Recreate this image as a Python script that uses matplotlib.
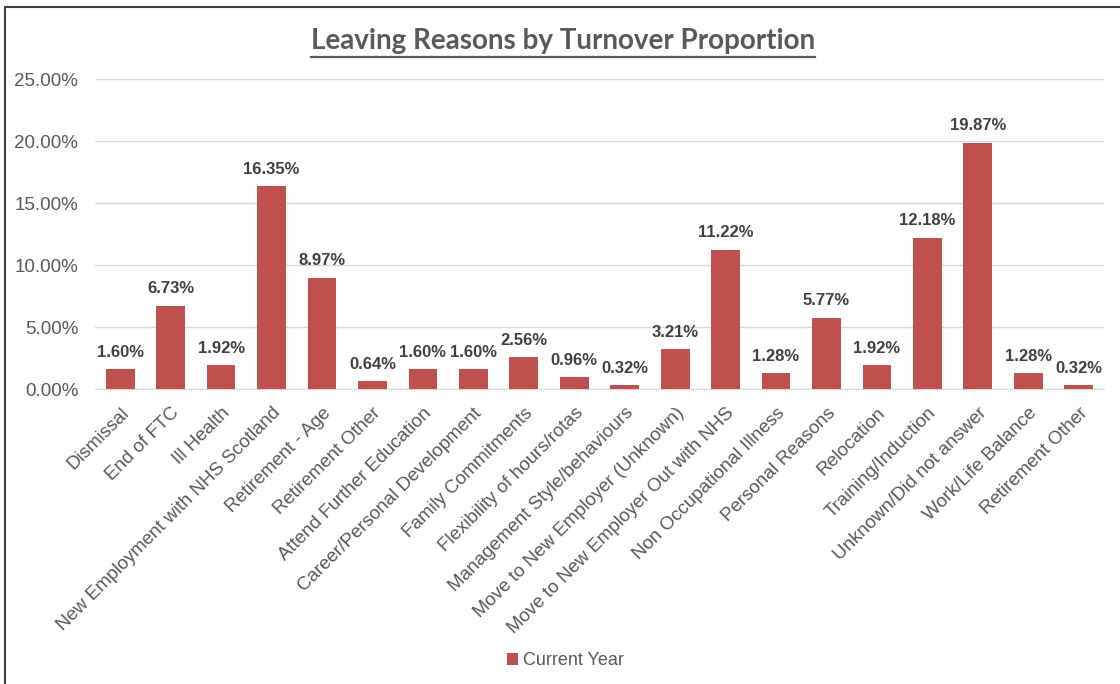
import matplotlib.pyplot as plt
from matplotlib.lines import Line2D
from matplotlib.patches import Rectangle
from matplotlib.ticker import FuncFormatter

reasons = [
    'Dismissal', 'End of FTC', 'Ill Health', 'New Employment with NHS Scotland',
    'Retirement - Age', 'Retirement Other', 'Attend Further Education',
    'Career/Personal Development', 'Family Commitments', 'Flexibility of hours/rotas',
    'Management Style/behaviours', 'Move to New Employer (Unknown)',
    'Move to New Employer Out with NHS', 'Non Occupational Illness', 'Personal Reasons',
    'Relocation', 'Training/Induction', 'Unknown/Did not answer', 'Work/Life Balance',
    'Retirement Other',
]
proportions = [1.60, 6.73, 1.92, 16.35, 8.97, 0.64, 1.60, 1.60, 2.56, 0.96,
               0.32, 3.21, 11.22, 1.28, 5.77, 1.92, 12.18, 19.87, 1.28, 0.32]

BAR_RED = '#C0504D'
TEXT_GREY = '#595959'
GRID_GREY = '#D9D9D9'

plt.rcParams['font.family'] = ['Liberation Sans', 'DejaVu Sans']

fig = plt.figure(figsize=(11.2, 6.84), dpi=100)
ax = fig.add_axes([0.0848, 0.431, 0.9009, 0.4535])

x = list(range(len(reasons)))
bars = ax.bar(x, proportions, width=0.57, color=BAR_RED, label='Current Year', zorder=3)

for rect, val in zip(bars, proportions):
    ax.annotate(f'{val:.2f}%', (rect.get_x() + rect.get_width() / 2, rect.get_height()),
                xytext=(0, 7), textcoords='offset points', ha='center', va='bottom',
                fontsize=12, fontweight='bold', color='#404040')

ax.set_xlim(-0.5, len(reasons) - 0.5)
ax.set_ylim(0, 25)
ax.set_yticks([0, 5, 10, 15, 20, 25])
ax.yaxis.set_major_formatter(FuncFormatter(lambda v, _: f'{v:.2f}%'))
ax.grid(axis='y', color=GRID_GREY, linewidth=1, zorder=0)
ax.set_xticks(x)
ax.set_xticklabels(reasons, rotation=45, ha='right', rotation_mode='anchor')
ax.tick_params(axis='both', length=0, labelsize=13.5, labelcolor=TEXT_GREY)
ax.tick_params(axis='x', pad=11)
ax.tick_params(axis='y', pad=12)
for side in ['top', 'right', 'left']:
    ax.spines[side].set_visible(False)
ax.spines['bottom'].set_color(GRID_GREY)

# title with underline
title = fig.text(0.503, 0.928, 'Leaving Reasons by Turnover Proportion', ha='center', va='baseline',
                 fontsize=20, fontweight='bold', color=TEXT_GREY, family=['Lato', 'DejaVu Sans'])
fig.canvas.draw()
bb = title.get_window_extent().transformed(fig.transFigure.inverted())
fig.add_artist(Line2D([bb.x0, bb.x1], [0.917, 0.917], color=TEXT_GREY, linewidth=1.6))

fig.legend(handles=[bars], labels=['Current Year'], loc='center', bbox_to_anchor=(0.505, 0.034),
           frameon=False, fontsize=13, labelcolor=TEXT_GREY, handlelength=0.6, handleheight=0.6,
           handletextpad=0.3)

# outer frame
fig.add_artist(Rectangle((0.0045, -0.05), 1.2, 1.04, transform=fig.transFigure,
                         fill=False, edgecolor='#404040', linewidth=1.5))

fig.savefig('out.png', dpi=100)
